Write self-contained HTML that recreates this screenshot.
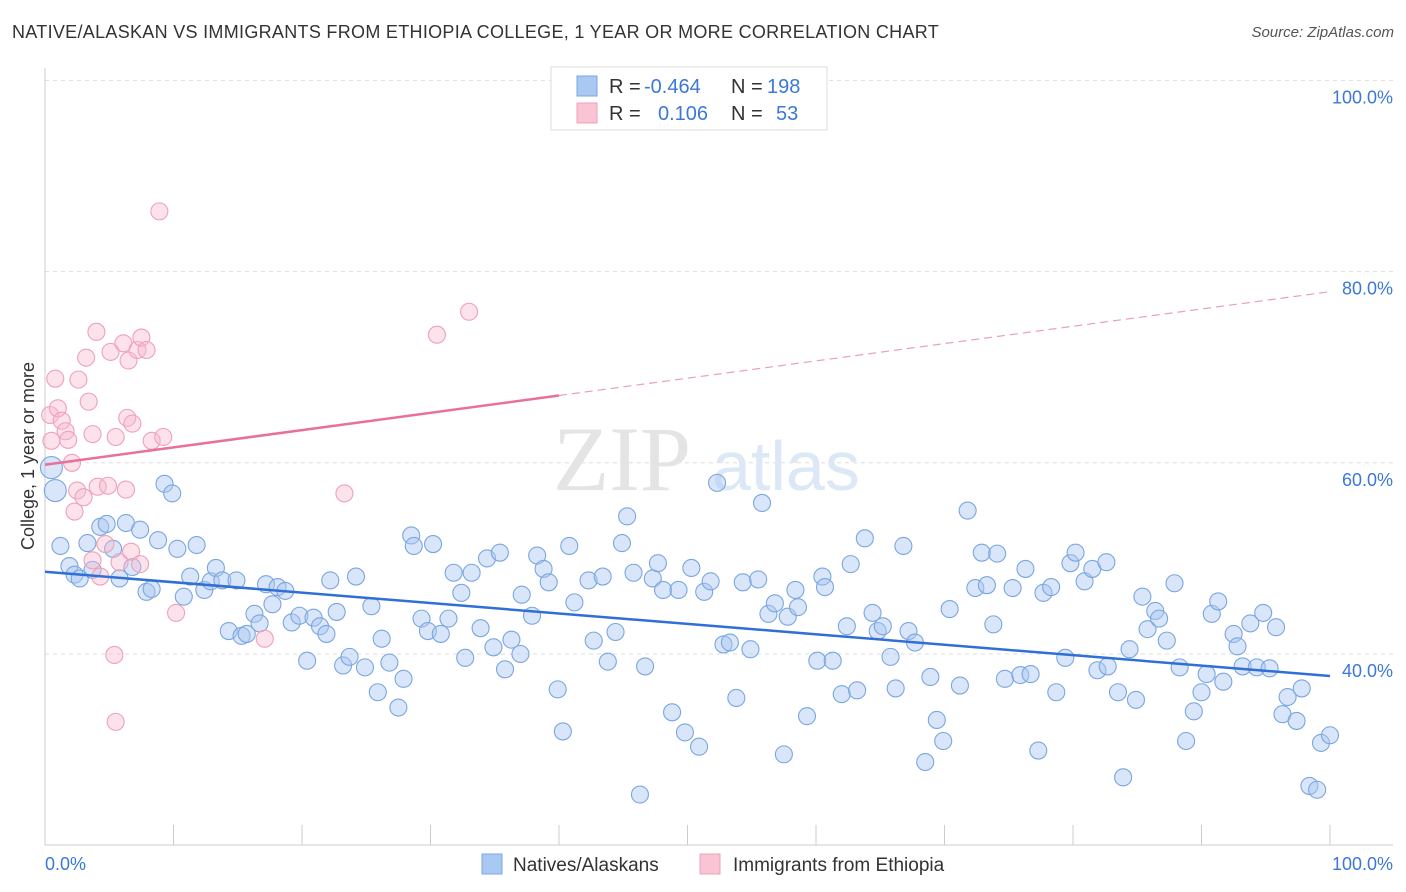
<!DOCTYPE html>
<html><head><meta charset="utf-8"><style>
body{margin:0;background:#fff;font-family:"Liberation Sans",sans-serif;}
#wrap{position:relative;width:1406px;height:892px;overflow:hidden;}
.t{position:absolute;white-space:nowrap;}
</style></head><body>
<div id="wrap">
<div class="t" style="left:12px;top:22px;font-size:18px;color:#333;letter-spacing:0.3px;">NATIVE/ALASKAN VS IMMIGRANTS FROM ETHIOPIA COLLEGE, 1 YEAR OR MORE CORRELATION CHART</div>
<div class="t" style="right:12px;top:24px;font-size:15px;color:#555;font-style:italic;">Source: ZipAtlas.com</div>
<svg id="svg" width="1406" height="892" style="position:absolute;left:0;top:0"></svg>
</div>
<script>
const blueX=[0.5,0.8,1.2,1.9,2.3,2.7,3.3,3.7,4.3,4.8,5.3,5.8,6.3,6.8,7.4,7.9,8.3,8.8,9.3,9.9,10.3,10.8,11.3,11.8,12.4,12.9,13.3,13.8,14.3,14.9,15.3,15.7,16.3,16.7,17.2,17.7,18.1,18.7,19.2,19.8,20.4,20.9,21.4,21.9,22.2,22.7,23.2,23.7,24.2,24.9,25.4,25.9,26.2,26.8,27.5,27.9,28.5,28.7,29.3,29.8,30.2,30.8,31.4,31.8,32.4,32.7,33.2,33.9,34.4,34.9,35.4,35.8,36.3,37.0,37.1,37.9,38.3,38.8,39.2,39.9,40.3,40.8,41.2,42.3,42.7,43.4,43.8,44.4,44.9,45.3,45.8,46.3,46.7,47.3,47.7,48.1,48.8,49.3,49.8,50.3,50.9,51.3,51.8,52.3,52.8,53.3,53.8,54.3,54.9,55.5,55.8,56.3,56.8,57.5,57.8,58.4,58.6,59.3,60.1,60.5,60.7,61.3,62.0,62.4,62.7,63.2,63.8,64.4,64.8,65.2,65.8,66.2,66.8,67.2,67.7,68.5,68.9,69.4,69.9,70.4,71.2,71.8,72.4,72.9,73.3,73.8,74.1,74.7,75.3,75.9,76.3,76.7,77.3,77.7,78.3,78.7,79.4,79.8,80.2,80.9,81.5,81.9,82.6,82.7,83.5,83.9,84.4,84.9,85.4,85.8,86.4,86.7,87.3,87.9,88.3,88.8,89.4,90.0,90.4,90.8,91.3,91.7,92.5,92.8,93.2,93.8,94.3,94.8,95.3,95.8,96.3,96.7,97.4,97.8,98.4,99.0,99.3,100];
const blueY=[59.5,57.1,51.3,49.2,48.3,47.9,51.6,48.8,53.3,53.6,51.0,47.9,53.7,49.1,53.0,46.5,46.8,51.9,57.8,56.8,51.0,46.0,48.1,51.4,46.7,47.6,49.0,47.7,42.4,47.7,41.9,42.1,44.2,43.2,47.3,45.2,47.0,46.6,43.3,44.0,39.3,43.8,42.9,42.1,47.7,44.4,38.8,39.7,48.1,38.6,45.0,36.0,41.6,39.1,34.4,37.4,52.4,51.3,43.7,42.4,51.5,42.1,43.7,48.5,46.4,39.6,48.5,42.7,50.0,40.7,50.6,38.4,41.5,40.0,46.2,44.0,50.3,48.9,47.5,36.3,31.9,51.3,45.4,47.7,41.4,48.1,39.2,42.3,51.6,54.4,48.5,25.3,38.7,47.9,49.5,46.7,33.9,46.7,31.8,49.0,30.3,46.5,47.6,57.9,41.0,41.2,35.4,47.5,40.5,47.8,55.8,44.2,45.3,29.5,43.9,46.7,44.9,33.5,39.3,48.1,47.0,39.3,35.8,42.9,49.4,36.2,52.1,44.3,42.4,42.9,39.7,36.4,51.3,42.4,41.2,28.7,37.6,33.1,30.9,44.7,36.7,55.0,46.9,50.6,47.2,43.1,50.5,37.4,46.9,37.8,48.9,37.9,29.9,46.4,47.0,36.0,39.6,49.5,50.6,47.6,48.9,38.3,49.6,38.7,36.0,27.1,40.5,35.2,46.0,42.6,44.5,43.7,41.4,47.4,38.6,30.9,34.0,36.0,37.9,44.2,45.5,37.1,42.1,40.8,38.7,43.2,38.6,44.3,38.5,42.8,33.7,35.5,33.0,36.4,26.2,25.8,30.7,31.5];
const pinkX=[0.4,0.5,0.8,1.0,1.3,1.6,1.8,2.1,2.3,2.5,2.6,3.0,3.2,3.4,3.7,3.7,4.0,4.1,4.3,4.7,4.9,5.1,5.4,5.5,5.5,5.8,6.1,6.3,6.4,6.5,6.7,6.8,7.2,7.4,7.5,7.9,8.3,8.9,9.2,10.2,17.1,23.3,30.5,33.0];
const pinkY=[65.0,62.3,68.8,65.7,64.4,63.3,62.4,60.0,54.9,57.1,68.7,56.4,71.0,66.4,63.0,49.8,73.7,57.5,48.1,51.5,57.6,71.6,39.9,62.7,32.9,49.6,72.5,57.2,64.7,70.7,50.7,64.1,71.8,49.4,73.1,71.8,62.3,86.3,62.7,44.3,41.6,56.8,73.4,75.8];
const yTicks=[100,80,60,40];
const blueTrend=[48.6,37.7];
const pinkTrend=[59.8,77.9];
const legendR=["-0.464","0.106"], legendN=["198","53"];

const svg=document.getElementById('svg');
const NS='http://www.w3.org/2000/svg';
const X0=45,X1=1330;
const xs=v=>X0+(X1-X0)*v/100;
const ys=v=>654-(v-40)*9.56;
function mk(tag,attrs){const e=document.createElementNS(NS,tag);for(const k in attrs)e.setAttribute(k,attrs[k]);svg.appendChild(e);return e;}

yTicks.forEach(t=>{
  const g=mk('line',{x1:45,x2:1393,y1:ys(t),y2:ys(t),stroke:'#ddd','stroke-dasharray':'4,4'});
  
  
  const l=mk('text',{x:1393,y:ys(t)+23,'text-anchor':'end','font-size':18,fill:'#3b78d8','font-family':'Liberation Sans'});
  l.textContent=t.toFixed(1)+'%';
  
  
});
const ax=mk('line',{x1:45,x2:1393,y1:845,y2:845,stroke:'#ccc'});


const ay=mk('line',{x1:45,x2:45,y1:68,y2:845,stroke:'#ccc'});


for(let i=0;i<=10;i++){
  const tk=mk('line',{x1:xs(i*10),x2:xs(i*10),y1:825,y2:845,stroke:'#ccc'});
  
  
}
const wm=mk('text',{x:553,y:490,'font-size':92,fill:'#e4e4e4','font-family':'Liberation Serif'});
wm.textContent='ZIP';


const wm2=mk('text',{x:712,y:490,'font-size':70,fill:'#dce8f6','font-family':'Liberation Sans'});
wm2.textContent='atlas';



blueX.forEach((x,i)=>{
  const big=i<2;
  const c=mk('circle',{cx:xs(x),cy:ys(blueY[i]),r:big?11:8.5,fill:'rgba(170,200,242,0.45)',stroke:'#7aa6e0','stroke-width':1.1});
  
  
});
pinkX.forEach((x,i)=>{
  const c=mk('circle',{cx:xs(x),cy:ys(pinkY[i]),r:8.5,fill:'rgba(248,185,205,0.4)',stroke:'#f0a0b8','stroke-width':1.1});
  
  
});
const bt=mk('line',{x1:xs(0),y1:ys(blueTrend[0]),x2:xs(100),y2:ys(blueTrend[1]),stroke:'#2f6fd6','stroke-width':2.5});


const pm=40, pmy=pinkTrend[0]+(pinkTrend[1]-pinkTrend[0])*pm/100;
const pt=mk('line',{x1:xs(0),y1:ys(pinkTrend[0]),x2:xs(pm),y2:ys(pmy),stroke:'#e8709a','stroke-width':2.5});


const pd=mk('line',{x1:xs(pm),y1:ys(pmy),x2:xs(100),y2:ys(pinkTrend[1]),stroke:'#e8a0b8','stroke-width':1.2,'stroke-dasharray':'8,5'});



const xl0=mk('text',{x:45,y:870,'font-size':18,fill:'#3b78d8','font-family':'Liberation Sans'});xl0.textContent='0.0%';


const xl1=mk('text',{x:1393,y:870,'text-anchor':'end','font-size':18,fill:'#3b78d8','font-family':'Liberation Sans'});xl1.textContent='100.0%';


const yt=mk('text',{x:0,y:0,'font-size':18,fill:'#333','font-family':'Liberation Sans','text-anchor':'middle',transform:'translate(34,456) rotate(-90)'});yt.textContent='College, 1 year or more';



const lb=mk('rect',{x:551,y:67,width:276,height:63,fill:'#fff',stroke:'#ddd'});


const cols=[['#a9c8f2','#7aa6e0'],['#f9c4d4','#f0a0b8']];
[0,1].forEach(i=>{
  const y=86+i*27;
  const s=mk('rect',{x:577,y:y-10,width:20,height:20,fill:cols[i][0],stroke:cols[i][1]});
  
  
  const t=mk('text',{x:609,y:y+7,'font-size':20,fill:'#333','font-family':'Liberation Sans'});
  t.innerHTML='R = <tspan fill="#3b78d8" x="'+(i?658:644)+'">'+legendR[i]+'</tspan><tspan fill="#333" x="731">N = </tspan><tspan fill="#3b78d8" x="'+(i?776:767)+'">'+legendN[i]+'</tspan>';
  
  
});
[['Natives/Alaskans',482,513,0],['Immigrants from Ethiopia',700,733,1]].forEach(a=>{
  const s=mk('rect',{x:a[1],y:854,width:20,height:20,fill:cols[a[3]][0],stroke:cols[a[3]][1]});
  
  
  const t=mk('text',{x:a[2],y:871,'font-size':19,fill:'#333','font-family':'Liberation Sans'});
  t.textContent=a[0];
  
  
});
</script>
</body></html>
